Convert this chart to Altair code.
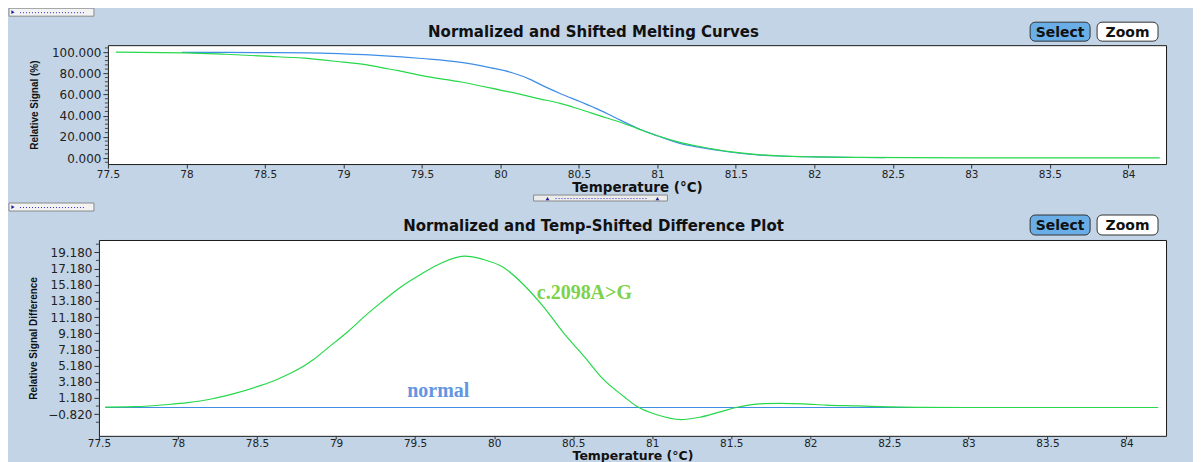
import altair as alt
import pandas as pd

# ---------------- data ----------------
# top panel: normalized & shifted melting curves (Relative Signal %)
mut_T = [77.55, 78.0, 78.25, 78.5, 78.75, 79.0, 79.15, 79.25, 79.35, 79.5, 79.75,
         80.0, 80.13, 80.25, 80.38, 80.5, 80.64, 80.76, 80.87, 81.0, 81.15, 81.27,
         81.46, 81.64, 81.78, 82.0, 82.3, 82.6, 83.0, 84.2]
mut_sig = [100.0, 99.4, 98.0, 96.2, 94.3, 90.5, 88.0, 85.2, 82.5, 77.8, 71.8,
           64.2, 60.1, 55.9, 51.6, 46.3, 39.6, 34.0, 28.0, 21.0, 14.6, 10.9,
           6.0, 3.2, 2.0, 1.1, 0.6, 0.3, 0.2, 0.1]
norm_T = [77.97, 78.5, 78.77, 79.0, 79.24, 79.5, 79.75, 79.94, 80.07, 80.2, 80.25,
          80.38, 80.51, 80.62, 80.72, 80.87, 81.0, 81.15, 81.27, 81.46, 81.64,
          81.78, 82.0, 82.2, 82.45]
norm_sig = [99.8, 99.6, 99.4, 98.4, 96.8, 94.0, 90.3, 85.2, 80.8, 73.6, 69.8,
            61.0, 53.1, 46.2, 39.0, 28.3, 21.0, 13.6, 10.0, 5.7, 3.0,
            1.9, 1.0, 0.6, 0.4]

# bottom panel: temp-shifted difference plot
diff_T = [77.54, 77.72, 77.94, 78.06, 78.21, 78.36, 78.52, 78.63, 78.74, 78.86,
          78.95, 79.07, 79.2, 79.28, 79.41, 79.54, 79.66, 79.81, 79.93, 80.06,
          80.18, 80.31, 80.44, 80.57, 80.69, 80.82, 80.91, 81.03, 81.18, 81.3,
          81.43, 81.56, 81.68, 81.81, 81.95, 82.1, 82.3, 82.5, 82.7, 83.0, 84.2]
diff_val = [0.05, 0.1, 0.37, 0.6, 1.05, 1.75, 2.7, 3.5, 4.5, 5.97,
            7.4, 9.3, 11.6, 12.9, 14.9, 16.5, 17.8, 18.7, 18.3, 17.3,
            15.3, 12.5, 9.2, 6.3, 3.5, 1.36, 0.05, -0.9, -1.5, -1.2,
            -0.53, 0.12, 0.46, 0.5, 0.45, 0.3, 0.2, 0.08, 0.02, 0.0, 0.0]
base_T = [77.54, 84.2]
base_val = [0.0, 0.0]

series_names = ["normal", "c.2098A>G"]
label_T = [79.45, 80.27]
label_val = [2.1, 14.16]

x_ticks = [77.5, 78, 78.5, 79, 79.5, 80, 80.5, 81, 81.5, 82, 82.5, 83, 83.5, 84]
top_y_ticks = [0, 20, 40, 60, 80, 100]
top_y_minor = [-4, 4, 8, 12, 16, 24, 28, 32, 36, 44, 48, 52, 56, 64, 68, 72, 76,
               84, 88, 92, 96, 104]
bot_y_ticks = [-0.82, 1.18, 3.18, 5.18, 7.18, 9.18, 11.18, 13.18, 15.18, 17.18, 19.18]
bot_y_minor = [-1.82, 0.18, 2.18, 4.18, 6.18, 8.18, 10.18, 12.18, 14.18, 16.18, 18.18, 20.18]

top_title = "Normalized and Shifted Melting Curves"
bot_title = "Normalized and Temp-Shifted Difference Plot"
x_title = "Temperature (°C)"
top_y_title = "Relative Signal (%)"
bot_y_title = "Relative Signal Difference"
buttons = ["Select", "Zoom"]

# ---------------- styling ----------------
BG = "#c2d4e6"
GREEN = "#26d84a"
BLUE = "#3e8ee6"
GREEN_TXT = "#7cd24a"
BLUE_TXT = "#6496df"
TICKF = "DejaVu Sans"

dummy = pd.DataFrame({"d": [0]})

top_x_scale = alt.Scale(domain=[77.5, 84.24], nice=False, zero=False)
bot_x_scale = alt.Scale(domain=[77.5, 84.25], nice=False, zero=False)
top_y_scale = alt.Scale(domain=[-5.7, 106.6], nice=False, zero=False)
bot_y_scale = alt.Scale(domain=[-3.5, 20.7], nice=False, zero=False)


def x_axis(ty, tsize, tick, pad):
    return alt.Axis(values=x_ticks, format="~g", title=x_title, grid=False, domain=False,
                    labelFont=TICKF, labelFontSize=10.5, labelColor="#222", labelFlush=False,
                    labelOverlap=False, labelPadding=pad, tickSize=tick, tickColor="#333",
                    titleFont=TICKF, titleFontSize=tsize, titleFontWeight="bold",
                    titleColor="#111", titleY=ty, titleBaseline="alphabetic")


def y_axis(values, title, tx):
    return alt.Axis(values=values, format=".3f", title=title, grid=False, domain=False,
                    labelFont=TICKF, labelFontSize=12, labelColor="#222", labelOverlap=False,
                    labelPadding=2, tickSize=5, tickColor="#333",
                    titleFont="Liberation Sans", titleFontSize=10,
                    titleFontWeight="bold", titleColor="#111", titleX=tx,
                    titleBaseline="alphabetic")


TOP_X_AXIS = x_axis(27, 13.5, 4, 1)
BOT_X_AXIS = x_axis(23.5, 12.5, 3, 0)
TOP_Y_AXIS = y_axis(top_y_ticks, top_y_title, -70)
BOT_Y_AXIS = y_axis(bot_y_ticks, bot_y_title, -62)


def rect(x1, x2, y1, y2, fill, stroke, r=0):
    return alt.Chart(dummy).mark_rect(fill=fill, stroke=stroke, strokeWidth=1,
                                      cornerRadius=r).encode(
        x=alt.value(x1), x2=alt.value(x2), y=alt.value(y1), y2=alt.value(y2))


def label(txt, x, y, size, color="#111", weight="bold", align="center", font=TICKF):
    return alt.Chart(dummy).mark_text(text=txt, font=font, fontSize=size, fontWeight=weight,
                                      color=color, align=align, baseline="alphabetic").encode(
        x=alt.value(x), y=alt.value(y))


def dotted(x1, x2, y):
    return alt.Chart(dummy).mark_rule(color="#3030c8", strokeDash=[1, 2], strokeWidth=1).encode(
        x=alt.value(x1), x2=alt.value(x2), y=alt.value(y))


def tri(x, y, shape):
    return alt.Chart(dummy).mark_point(shape=shape, filled=True, size=14, color="#1a1aa0",
                                       opacity=1).encode(x=alt.value(x), y=alt.value(y))


def tab(x0, y0):
    return [rect(x0, x0 + 85, y0, y0 + 8, "#f3f3f3", "#8a8a8a"),
            tri(x0 + 4, y0 + 4, "triangle-right"),
            dotted(x0 + 11, x0 + 75, y0 + 4.5)]


def button_set(x0, y0, y1):
    sel = [rect(x0, x0 + 60, y0, y1, "#6aaee8", "#333", 5),
           label(buttons[0], x0 + 30, (y0 + y1) / 2 + 5, 14)]
    zm = [rect(x0 + 67, x0 + 128, y0, y1, "white", "#333", 5),
          label(buttons[1], x0 + 97.5, (y0 + y1) / 2 + 5, 14)]
    return sel + zm


def enc(chart, xs, ys, xa, ya):
    return chart.encode(x=alt.X("T:Q", scale=xs, axis=xa), y=alt.Y("v:Q", scale=ys, axis=ya))


# ---------------- top panel ----------------
top_mut = pd.DataFrame({"T": mut_T, "v": mut_sig})
top_norm = pd.DataFrame({"T": norm_T, "v": norm_sig})
top_minor_df = pd.DataFrame({"v": top_y_minor})

top_main = enc(alt.Chart(top_norm).mark_line(color=BLUE, strokeWidth=1.2, interpolate="monotone"),
               top_x_scale, top_y_scale, TOP_X_AXIS, TOP_Y_AXIS)
top_green = enc(alt.Chart(top_mut).mark_line(color=GREEN, strokeWidth=1.2, interpolate="monotone"),
                top_x_scale, top_y_scale, TOP_X_AXIS, TOP_Y_AXIS)
top_minor = alt.Chart(top_minor_df).mark_rule(color="#444").encode(
    y=alt.Y("v:Q", scale=top_y_scale, axis=TOP_Y_AXIS), x=alt.value(-3), x2=alt.value(0))

top_deco = tab(-99, -37) + [label(top_title, 486, -8, 15)] + button_set(923, -23, -4) + [
    rect(426, 560, 150, 156, "#ececec", "#8a8a8a"),
    tri(440, 153.5, "triangle-up"), tri(550, 153.5, "triangle-up"),
    dotted(448, 540, 153.5)]

top = alt.layer(top_main, top_green, top_minor, *top_deco).properties(
    width=1059, height=119,
    view=alt.ViewBackground(fill="white", stroke="#1a1a1a", strokeWidth=1))

spacer = alt.Chart(dummy).mark_point(opacity=0, size=0).encode(
    x=alt.value(0), y=alt.value(0)).properties(width=1, height=119)

# ---------------- bottom panel ----------------
diff_df = pd.DataFrame({"T": diff_T, "v": diff_val})
base_df = pd.DataFrame({"T": base_T, "v": base_val})
bot_minor_df = pd.DataFrame({"v": bot_y_minor})
lab_df = pd.DataFrame({"T": label_T, "v": label_val, "s": series_names,
                       "c": [BLUE_TXT, GREEN_TXT]})

bot_base = enc(alt.Chart(base_df).mark_line(color=BLUE, strokeWidth=1.2),
               bot_x_scale, bot_y_scale, BOT_X_AXIS, BOT_Y_AXIS)
bot_diff = enc(alt.Chart(diff_df).mark_line(color=GREEN, strokeWidth=1.2, interpolate="monotone"),
               bot_x_scale, bot_y_scale, BOT_X_AXIS, BOT_Y_AXIS)
bot_minor = alt.Chart(bot_minor_df).mark_rule(color="#444").encode(
    y=alt.Y("v:Q", scale=bot_y_scale, axis=BOT_Y_AXIS), x=alt.value(-3), x2=alt.value(0))
bot_labels = enc(alt.Chart(lab_df).mark_text(font="Liberation Serif", fontSize=20,
                                             fontWeight="bold", align="left",
                                             baseline="middle"),
                 bot_x_scale, bot_y_scale, BOT_X_AXIS, BOT_Y_AXIS).encode(
    text="s:N",
    color=alt.Color("c:N", scale=None, legend=None),
)

bot_deco = tab(-90, -37) + [label(bot_title, 495, -9, 15)] + button_set(932, -25, -5)

bottom = alt.layer(bot_base, bot_diff, bot_minor, bot_labels, *bot_deco).properties(
    width=1068, height=196,
    view=alt.ViewBackground(fill="white", stroke="#1a1a1a", strokeWidth=1))

top_row = alt.hconcat(spacer, top, spacing=8, bounds="flush")
chart = alt.vconcat(top_row, bottom, spacing=0).properties(
    background=BG,
    padding={"left": 0, "top": -1, "right": 26, "bottom": 0},
).configure_view(stroke=None)

chart.save("out.html", embed_options={"renderer": "svg", "actions": False})
